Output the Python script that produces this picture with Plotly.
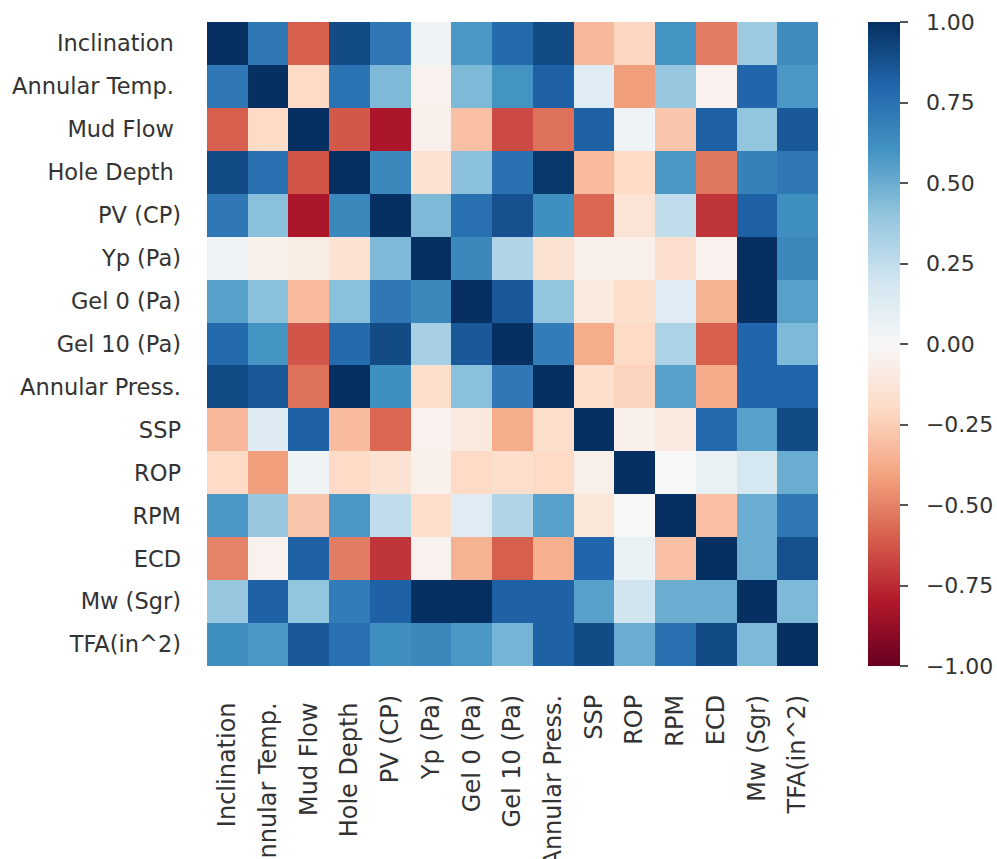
import plotly.graph_objects as go

# Variable names (a no-break space keeps the trailing gap on the first four)
labels = [
    "Inclination\u00a0", "Annular Temp.\u00a0", "Mud Flow\u00a0", "Hole Depth\u00a0",
    "PV (CP)", "Yp (Pa)", "Gel 0 (Pa)", "Gel 10 (Pa)", "Annular Press.",
    "SSP", "ROP", "RPM", "ECD", "Mw (Sgr)", "TFA(in^2)",
]

# Correlation coefficients, one list per row
r_inclination = [1.00, 0.72, -0.60, 0.90, 0.72, 0.05, 0.58, 0.78, 0.90, -0.33, -0.22, 0.60, -0.52, 0.37, 0.63]
r_ann_temp    = [0.72, 1.00, -0.20, 0.74, 0.45, -0.04, 0.45, 0.60, 0.82, 0.12, -0.42, 0.38, -0.04, 0.80, 0.58]
r_mud_flow    = [-0.60, -0.20, 1.00, -0.62, -0.82, -0.05, -0.30, -0.66, -0.55, 0.82, 0.05, -0.28, 0.82, 0.40, 0.85]
r_hole_depth  = [0.90, 0.75, -0.63, 1.00, 0.65, -0.15, 0.42, 0.75, 0.97, -0.32, -0.20, 0.58, -0.53, 0.68, 0.72]
r_pv          = [0.72, 0.42, -0.82, 0.65, 1.00, 0.45, 0.75, 0.88, 0.62, -0.58, -0.14, 0.25, -0.72, 0.82, 0.62]
r_yp          = [0.06, -0.05, -0.08, -0.15, 0.45, 1.00, 0.65, 0.30, -0.15, -0.05, -0.05, -0.17, -0.04, 1.00, 0.65]
r_gel0        = [0.55, 0.42, -0.32, 0.42, 0.72, 0.65, 1.00, 0.85, 0.40, -0.10, -0.18, 0.12, -0.35, 1.00, 0.55]
r_gel10       = [0.78, 0.60, -0.63, 0.78, 0.90, 0.33, 0.85, 1.00, 0.70, -0.37, -0.20, 0.32, -0.60, 0.80, 0.45]
r_ann_press   = [0.90, 0.85, -0.55, 1.00, 0.62, -0.18, 0.42, 0.72, 1.00, -0.18, -0.23, 0.55, -0.38, 0.80, 0.80]
r_ssp         = [-0.33, 0.13, 0.82, -0.32, -0.58, -0.04, -0.10, -0.37, -0.18, 1.00, -0.05, -0.10, 0.78, 0.55, 0.90]
r_rop         = [-0.20, -0.42, 0.05, -0.20, -0.15, -0.05, -0.20, -0.18, -0.20, -0.06, 1.00, 0.00, 0.07, 0.18, 0.50]
r_rpm         = [0.58, 0.38, -0.28, 0.58, 0.25, -0.18, 0.12, 0.30, 0.55, -0.12, 0.00, 1.00, -0.30, 0.50, 0.72]
r_ecd         = [-0.50, -0.04, 0.82, -0.52, -0.72, -0.04, -0.35, -0.60, -0.36, 0.80, 0.07, -0.30, 1.00, 0.50, 0.88]
r_mw          = [0.38, 0.82, 0.40, 0.70, 0.82, 1.00, 1.00, 0.82, 0.82, 0.55, 0.20, 0.50, 0.50, 1.00, 0.45]
r_tfa         = [0.62, 0.58, 0.85, 0.75, 0.62, 0.65, 0.58, 0.47, 0.82, 0.90, 0.50, 0.75, 0.90, 0.45, 1.00]

corr = [r_inclination, r_ann_temp, r_mud_flow, r_hole_depth, r_pv, r_yp, r_gel0,
        r_gel10, r_ann_press, r_ssp, r_rop, r_rpm, r_ecd, r_mw, r_tfa]

# Diverging red-blue scale (red = -1, blue = +1)
rdbu_colors = ["#67001f", "#b2182b", "#d6604d", "#f4a582", "#fddbc7", "#f7f7f7",
               "#d1e5f0", "#92c5de", "#4393c3", "#2166ac", "#053061"]
colorscale = [[i / (len(rdbu_colors) - 1), c] for i, c in enumerate(rdbu_colors)]

colorbar_ticks = [1.0, 0.75, 0.5, 0.25, 0.0, -0.25, -0.5, -0.75, -1.0]
# Tick labels with a typographic minus, padded away from the tick marks
colorbar_text = ["\u00a0\u00a0" + f"{v:.2f}".replace("-", "\u2212") for v in colorbar_ticks]

text_color = "#333333"
font_family = "DejaVu Sans"

fig = go.Figure(
    go.Heatmap(
        z=corr,
        x=labels,
        y=labels,
        zmin=-1,
        zmax=1,
        colorscale=colorscale,
        xgap=0,
        ygap=0,
        colorbar=dict(
            x=1.0818,
            xanchor="left",
            xpad=0,
            y=0.5,
            yanchor="middle",
            ypad=0,
            len=1,
            lenmode="fraction",
            thickness=32,
            thicknessmode="pixels",
            outlinewidth=0,
            tickmode="array",
            tickvals=colorbar_ticks,
            ticktext=colorbar_text,
            ticks="outside",
            ticklen=8,
            tickwidth=2,
            tickcolor="#555555",
            tickfont=dict(family=font_family, size=22, color=text_color),
        ),
        hovertemplate="%{y} / %{x}: %{z:.2f}<extra></extra>",
    )
)

fig.update_xaxes(
    tickangle=-90,
    ticks="",
    ticklabelstandoff=23,
    showgrid=False,
    zeroline=False,
    showline=False,
    automargin=False,
    tickfont=dict(family=font_family, size=24, color=text_color),
)
fig.update_yaxes(
    autorange="reversed",
    ticks="",
    ticklabelstandoff=25,
    showgrid=False,
    zeroline=False,
    showline=False,
    automargin=False,
    tickfont=dict(family=font_family, size=22.5, color=text_color),
)

fig.update_layout(
    width=997,
    height=859,
    margin=dict(l=207, r=179, t=22, b=193, autoexpand=False),
    paper_bgcolor="white",
    plot_bgcolor="white",
    font=dict(family=font_family, size=22, color=text_color),
)

fig.write_html("out.html")
